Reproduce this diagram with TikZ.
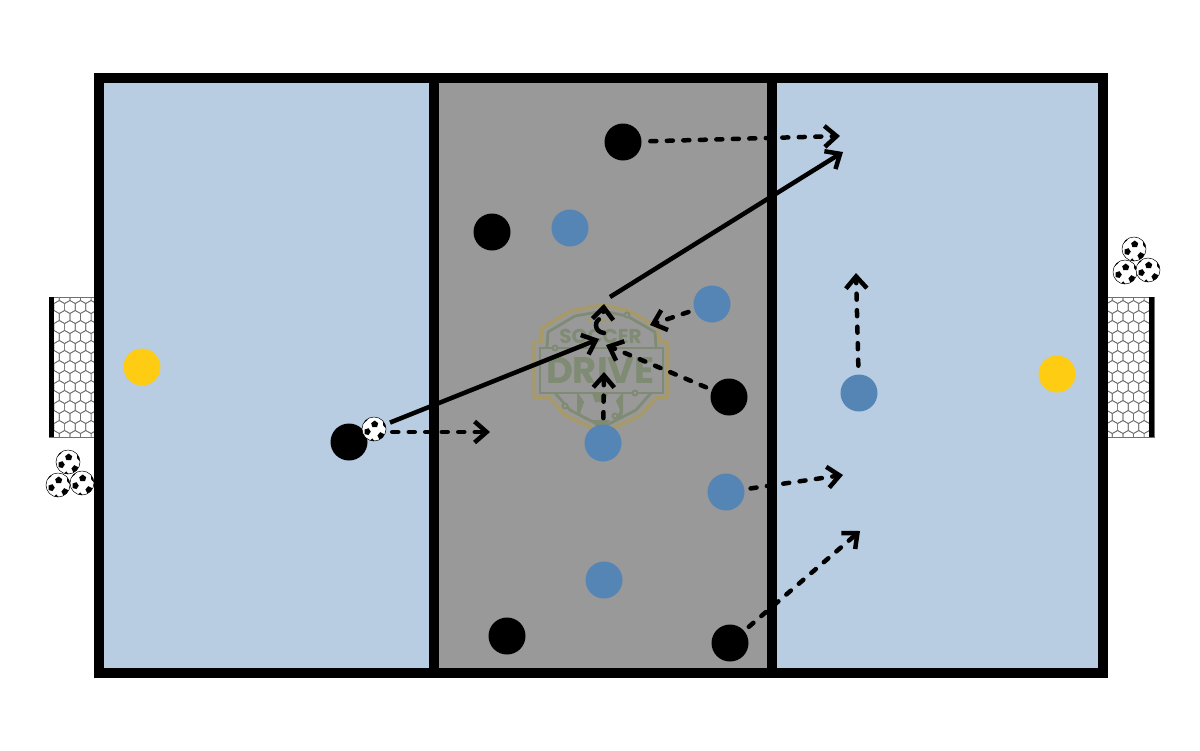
\documentclass[tikz,border=0pt]{standalone}
\usepackage{fontspec}
\setsansfont{Poppins}
\usepackage{xcolor}
\usepackage{tikz}
\usetikzlibrary{positioning,arrows.meta,shapes.geometric}
\definecolor{cfield}{HTML}{B8CDE2}
\definecolor{cmid}{HTML}{999999}
\definecolor{cblue}{HTML}{5585B5}
\definecolor{cyellow}{HTML}{FFCC14}
\definecolor{cgold}{HTML}{A79A68}
\definecolor{csage}{HTML}{7F8B73}
\definecolor{cnet}{HTML}{707070}
\newcommand{\netcell}[2]{%
  \draw[netline] (#1,#2-6.5) -- (#1+5.3,#2-3.5) -- (#1+5.3,#2+3.5) -- (#1,#2+6.5)
    -- (#1-5.3,#2+3.5) -- (#1-5.3,#2-3.5) -- cycle;}
\newcommand{\netpatch}[1]{%
  \begin{scope}
    \clip (#1,297) rectangle (#1+42,437);
    \foreach \r in {0,...,7} {
      \foreach \c in {0,...,4} {
        \netcell{#1+\c*10.6}{297+\r*20}
        \netcell{#1+5.3+\c*10.6}{307+\r*20}
      }
    }
  \end{scope}}
\tikzset{
  player/.style={circle, inner sep=0pt, minimum size=7.4mm},
  blackp/.style={player, fill=black},
  bluep/.style={player, fill=cblue},
  keeper/.style={player, fill=cyellow},
  ballnode/.style={circle, inner sep=0pt, minimum size=4.8mm, draw=black, line width=0.1mm, fill=white,
    path picture={
      \begin{scope}[shift={(path picture bounding box.center)}, fill=black]
        \fill (0.7,-8.5) -- (4.2,-5.8) -- (3,-1.8) -- (-1.6,-1.8) -- (-2.8,-5.8) -- cycle;
        \fill (-9.5,0.5) -- (-5.5,-0.8) -- (-3.2,2.6) -- (-5.5,6) -- (-9.5,5) -- cycle;
        \fill (3.4,6.5) -- (6.2,3.2) -- (10,5) -- (9.6,9.2) -- (5.4,10.4) -- cycle;
        \fill (-4,11.5) -- (-1.8,9.4) -- (1,12.5) -- cycle;
        \fill (-10,-6) -- (-6.8,-8.8) -- (-6,-11) -- (-11,-9) -- cycle;
        \fill (9,-7.5) -- (12,-5.5) -- (11.5,-1) -- (9.2,-3.6) -- cycle;
      \end{scope}
    }},
  run/.style={-{Bar[width=0pt,sep=1.2mm] Straight Barb[length=2.4mm,width=4.2mm]}, line width=0.9mm,
    line cap=round, dash pattern=on 1.2mm off 2.1mm, shorten <=1.2mm},
  pass/.style={-{Straight Barb[length=2.4mm,width=4.2mm]}, line width=0.9mm, shorten <=1mm},
  netline/.style={draw=cnet, line width=0.14mm},
  fieldline/.style={draw=black, line width=2mm},
  logoline/.style={draw=csage, line width=0.55mm},
  logodot/.style={circle, draw=csage, line width=0.4mm, fill=cmid, inner sep=0pt, minimum size=1mm},
  logotext/.style={text=csage, inner sep=0pt},
}
\begin{document}
\begin{tikzpicture}[x=0.2mm,y=-0.2mm]
  \useasboundingbox (0,0) rectangle (1200,750);
  % field
  \fill[cfield] (99,78) rectangle (1103,673);
  \fill[cmid] (434,78) rectangle (772,673);
  % logo
  \draw[cgold, line width=0.7mm, line join=round] (603,305) -- (570,311) -- (542,328) -- (541,342) -- (534,342)
    -- (534,397) -- (549,397) -- (565,415) -- (603,433) -- (641,415) -- (657,397) -- (667,397) -- (667,342)
    -- (660,342) -- (658,328) -- (630,311) -- cycle;
  \draw[logoline, line join=round] (547,347) -- (548,332) -- (575,316) -- (603,311) -- (627,316) -- (655,332) -- (656,347);
  \draw[logoline, line join=round] (555,393) -- (570,410) -- (603,427) -- (636,410) -- (651,393);
  \draw[logoline] (540,348) rectangle (663,393);
  \begin{scope}
    \clip (577,393) rectangle (623,427);
    \fill[csage] (566,393) -- (578,393) -- (584,402) -- (580,413) -- (586,420) -- (578,415) -- cycle;
    \fill[csage] (622,393) -- (628,393) -- (622,416) -- (616,420) -- (620,410) -- (616,401) -- cycle;
    \fill[csage] (592,393) -- (608,393) -- (605,402) -- (595,402) -- cycle;
    \fill[csage] (590,420) -- (610,420) -- (604,426) -- (596,426) -- cycle;
  \end{scope}
  \foreach \s in {589,604,612} {\node[star, star points=5, star point ratio=2.4, fill=cgold, inner sep=0pt, minimum size=1.4mm] (star\s) at (\s,320) {};}
  \node[logodot] (d1) at (627,315) {};
  \node[logodot] (d2) at (555,348) {};
  \node[logodot] (d3) at (635,393) {};
  \node[logodot] (d4) at (565,406) {};
  \node[logodot] (d5) at (615,416) {};
  \node[logotext, font=\sffamily\bfseries\fontsize{11.4pt}{12pt}\selectfont] (soccer) at (600.5,336) {SOCCER};
  \node[logotext, font=\sffamily\bfseries\fontsize{21pt}{23pt}\selectfont] (drive) at (600.5,371) {DRIVE};
  % goals
  \netpatch{54}
  \draw[cnet, line width=0.15mm] (49,297) rectangle (96,437);
  \fill[black] (49,297) rectangle (54,437);
  \netpatch{1107}
  \draw[cnet, line width=0.15mm] (1107,297) rectangle (1154,437);
  \fill[black] (1149,297) rectangle (1154,437);
  % lines
  \draw[fieldline] (99,78) rectangle (1103,673);
  \draw[fieldline] (434,74) -- (434,677);
  \draw[fieldline] (772,74) -- (772,677);
  % players
  \node[blackp] (b1) at (623,142) {};
  \node[blackp] (b2) at (492,232) {};
  \node[blackp] (b3) at (349,442) {};
  \node[blackp] (b4) at (729,397) {};
  \node[blackp] (b5) at (507,636) {};
  \node[blackp] (b6) at (730,643) {};
  \node[bluep] (u1) at (570,228) {};
  \node[bluep] (u2) at (712,304) {};
  \node[bluep] (u3) at (603,443) {};
  \node[bluep] (u4) at (859,393) {};
  \node[bluep] (u5) at (726,492) {};
  \node[bluep] (u6) at (604,580) {};
  \node[keeper] (k1) at (142,367) {};
  \node[keeper] (k2) at (1057,374) {};
  % balls
  \node[ballnode] (ball) at (374,429) {};
  \node[ballnode] (l1) at (68,462) {};
  \node[ballnode] (l2) at (58,485) {};
  \node[ballnode] (l3) at (82,483) {};
  \node[ballnode] (r1) at (1134,249) {};
  \node[ballnode] (r2) at (1125,272) {};
  \node[ballnode] (r3) at (1148,270) {};
  % free ends
  \coordinate (t1) at (840,136);
  \coordinate (t2) at (843,152);
  \coordinate (s2) at (610,297);
  \coordinate (t3) at (599,339);
  \coordinate (t4) at (490,432);
  \coordinate (t5) at (604,372);
  \coordinate (t6) at (606,345);
  \coordinate (t7) at (650,325);
  \coordinate (t8) at (856,273);
  \coordinate (t9) at (843,475);
  \coordinate (t10) at (860,531);
  \coordinate (s11) at (604,333);
  \coordinate (t11) at (604,304);
  % runs and passes
  \draw[run, shorten <=1.7mm] (b1) -- (t1);
  \draw[pass, shorten <=0pt] (s2) -- (t2);
  \draw[pass] (ball) -- (t3);
  \draw[run] (ball.east |- t4) -- (t4);
  \draw[run] (u3) -- (t5);
  \draw[run] (b4) -- (t6);
  \draw[run] (u2) -- (t7);
  \draw[run, shorten <=1.7mm] (u4) -- (t8);
  \draw[run] (u5) -- (t9);
  \draw[run] (b6) -- (t10);
  \draw[run, shorten <=0pt, -{Straight Barb[length=2.4mm,width=4.2mm]}, dash pattern=on 3.8mm off 2mm] (s11) .. controls (594,332) and (593,320) .. (603,317) -- (t11);
\end{tikzpicture}
\end{document}
